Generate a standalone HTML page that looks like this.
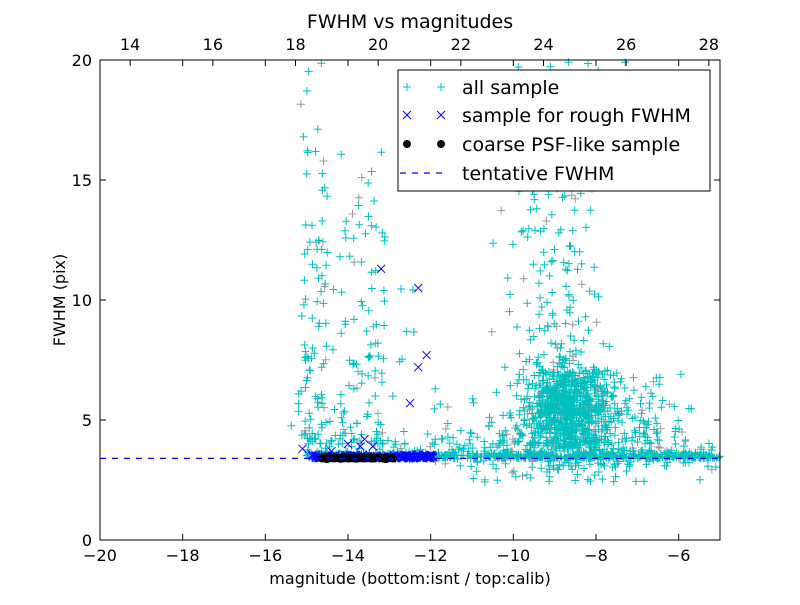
<!DOCTYPE html>
<html><head><meta charset="utf-8"><style>
body{margin:0;background:#fff;}
svg text{font-family:"DejaVu Sans","Liberation Sans",sans-serif;}
</style></head><body>
<svg id="s" width="800" height="600" xmlns="http://www.w3.org/2000/svg">
<rect width="800" height="600" fill="#fff"/>
<g id="pts"></g>
<line x1="100" y1="458.4" x2="720" y2="458.4" stroke="#0000ff" stroke-width="1.2" stroke-dasharray="6,6"/>
<rect x="100" y="60" width="620" height="480" fill="none" stroke="#000" stroke-width="1"/>
<g id="ticks" stroke="#000" stroke-width="1"></g>
<g id="labels" font-size="16" fill="#000"></g>
<text x="410" y="28" font-size="19" text-anchor="middle">FWHM vs magnitudes</text>
<text x="410" y="584" font-size="16" text-anchor="middle">magnitude (bottom:isnt / top:calib)</text>
<text x="65" y="300" font-size="16" text-anchor="middle" transform="rotate(-90 65 300)">FWHM (pix)</text>
<rect x="398" y="70" width="312" height="121" fill="#fff" stroke="#000"/>
<g stroke="#00bfbf" stroke-width="1"><path d="M403 87h8M407 83v8M437 87h8M441 83v8"/></g>
<g stroke="#0000ff" stroke-width="1"><path d="M403 111l8 8M411 111l-8 8M437 111l8 8M445 111l-8 8"/></g>
<circle cx="407" cy="144" r="4" fill="#000"/><circle cx="441" cy="144" r="4" fill="#000"/>
<line x1="400" y1="173" x2="448" y2="173" stroke="#0000ff" stroke-width="1.2" stroke-dasharray="6,6"/>
<g font-size="19"><text x="462" y="94">all sample</text><text x="462" y="122">sample for rough FWHM</text><text x="462" y="151">coarse PSF-like sample</text><text x="462" y="180">tentative FWHM</text></g>
</svg>
<script>
var NS="http://www.w3.org/2000/svg";
function X(m){return 100+(m+20)*620/15}
function Y(f){return 540-f*24}
var seed=12345;function r(){seed=(seed*1103515245+12345)%2147483648;return seed/2147483648}
function g(){return (r()+r()+r()+r()-2)/1.15}
var d="",gr="",bl="";
function plus(m,f){var x=X(m),y=Y(f);if(x<100||x>720||y<60||y>540)return;var s="M"+(x-4).toFixed(1)+" "+y.toFixed(1)+"h8M"+x.toFixed(1)+" "+(y-4).toFixed(1)+"v8";if(r()<0.12)gr+=s;else d+=s;}
var i;
for(i=0;i<90;i++){plus(-15.2+r()*0.7,4+Math.pow(r(),1.8)*16);}
for(i=0;i<90;i++){plus(-14.2+r()*1.1,4+Math.pow(r(),1.8)*13);}
for(i=0;i<40;i++){plus(-15.4+r()*3,4+Math.pow(r(),2)*8);}
for(i=0;i<650;i++){plus(-8.7+g()*0.9,5.5+g()*1.9);}
for(i=0;i<300;i++){plus(-9+g()*1.2,4+Math.pow(r(),1.8)*16);}
for(i=0;i<220;i++){plus(-7.8+g()*1.6,3+r()*4);}
for(i=0;i<650;i++){plus(-15+r()*10.2,3.4+Math.abs(g())*0.25*(r()<0.8?1:4));}
for(i=0;i<60;i++){plus(-11+r()*6,2.4+r()*1.2);}
for(i=0;i<120;i++){plus(-12+r()*6.5,3+r()*3.5);}
var e=document.getElementById("pts");
function P(dd,c){var p=document.createElementNS(NS,"path");p.setAttribute("d",dd);p.setAttribute("stroke",c);p.setAttribute("fill","none");e.appendChild(p);}
P(gr,"#999");P(d,"#00bfbf");
function xx(m,f){var x=X(m),y=Y(f);bl+="M"+(x-4)+" "+(y-4)+"l8 8M"+(x+4)+" "+(y-4)+"l-8 8";}
for(i=0;i<180;i++)xx(-14.9+r()*3,3.4+Math.abs(g())*0.15);
[[-15.1,3.8],[-13.2,11.3],[-12.3,10.5],[-12.3,7.2],[-12.1,7.7],[-12.5,5.7],[-14,4],[-13.6,4.2],[-13.4,3.9],[-14.4,3.7],[-13.7,3.9]].forEach(function(a){xx(a[0],a[1])});
P(bl,"#0000ff");
for(i=0;i<60;i++){var c=document.createElementNS(NS,"circle");c.setAttribute("cx",X(-14.7+r()*1.8));c.setAttribute("cy",Y(3.42+g()*0.04));c.setAttribute("r",4);e.appendChild(c);}
var t=document.getElementById("ticks"),L=document.getElementById("labels"),tk="";
function T(x,y,s,a){var q=document.createElementNS(NS,"text");q.setAttribute("x",x);q.setAttribute("y",y);q.setAttribute("text-anchor",a);q.textContent=s;L.appendChild(q);}
for(var m=-20;m<=-6;m+=2){var x=X(m);tk+="M"+x+" 540v-6M"+x+" 60v6";T(x,561,"\u2212"+(-m),"middle");}
for(var f=0;f<=20;f+=5){var y=Y(f);tk+="M100 "+y+"h6M720 "+y+"h-6";T(92,y+6,""+f,"end");}
for(var c2=14;c2<=28;c2+=2){var x2=X(c2-33.27);tk+="M"+x2+" 60v6";T(x2,50,""+c2,"middle");}
var p=document.createElementNS(NS,"path");p.setAttribute("d",tk);t.appendChild(p);
</script>
</body></html>
